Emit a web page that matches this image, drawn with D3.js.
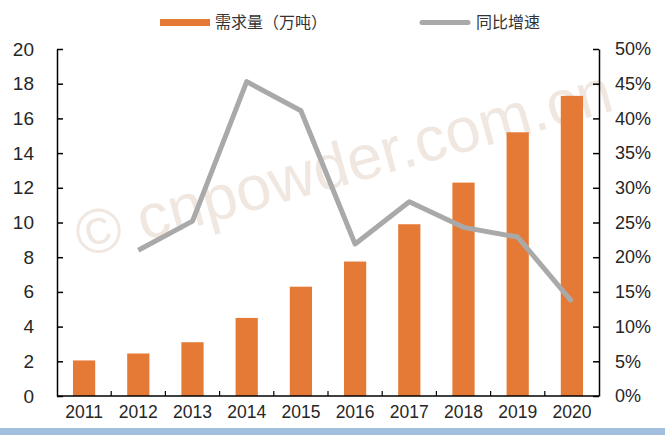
<!DOCTYPE html>
<html>
<head>
<meta charset="utf-8">
<script src="https://cdn.jsdelivr.net/npm/d3@7/dist/d3.min.js"></script>
<style>
  html, body { margin: 0; padding: 0; background: #fff; }
  svg { display: block; }
  .tick text { font-family: "Liberation Sans", Arial, sans-serif; fill: #262626; }
</style>
</head>
<body>
<svg id="chart" width="665" height="435"></svg>
<script>
const years = ["2011","2012","2013","2014","2015","2016","2017","2018","2019","2020"];
const demand = [2.05, 2.45, 3.1, 4.5, 6.3, 7.75, 9.9, 12.3, 15.2, 17.3];
const growthYears = ["2012","2013","2014","2015","2016","2017","2018","2019","2020"];
const growth = [0.21, 0.252, 0.453, 0.411, 0.219, 0.28, 0.243, 0.229, 0.136];
const leftTicks = [0, 2, 4, 6, 8, 10, 12, 14, 16, 18, 20];
const rightTicks = [0, 0.05, 0.10, 0.15, 0.20, 0.25, 0.30, 0.35, 0.40, 0.45, 0.50];
const legendLabels = ["需求量（万吨）", "同比增速"];

const svg = d3.select("#chart");
const L = 57, R = 599, T = 49, B = 396;

// bottom blue strip
svg.append("rect").attr("x", 0).attr("y", 428).attr("width", 665).attr("height", 7).attr("fill", "#a3bfdf");

// watermark
svg.append("text")
  .attr("transform", "translate(82,258) rotate(-15.5)")
  .attr("font-family", "'Liberation Sans', Arial, sans-serif")
  .attr("font-size", 63)
  .attr("fill", "#f0e7e1")
  .text("© cnpowder.com.cn");

const x = d3.scaleBand().domain(years).range([L, R]).paddingInner(0.59).paddingOuter(0.295);
const y = d3.scaleLinear().domain([0, 20]).range([B, T]);
const y2 = d3.scaleLinear().domain([0, 0.5]).range([B, T]);

// bars
svg.append("g").selectAll("rect").data(years).join("rect")
  .attr("x", d => x(d))
  .attr("width", x.bandwidth())
  .attr("y", (d, i) => y(demand[i]))
  .attr("height", (d, i) => y(0) - y(demand[i]))
  .attr("fill", "#e57a37");

// line
const line = d3.line().x((d, i) => x(growthYears[i]) + x.bandwidth() / 2).y(d => y2(d));
svg.append("path").datum(growth)
  .attr("d", line)
  .attr("fill", "none")
  .attr("stroke", "#a9a9a9")
  .attr("stroke-width", 5)
  .attr("stroke-linejoin", "round");

// axes
const gl = svg.append("g").attr("transform", `translate(${L},0)`)
  .call(d3.axisLeft(y).tickValues(leftTicks).tickSizeInner(-6).tickSizeOuter(0).tickPadding(23));
gl.selectAll("text").attr("font-size", 19);

const gr = svg.append("g").attr("transform", `translate(${R},0)`)
  .call(d3.axisRight(y2).tickValues(rightTicks).tickFormat(d3.format(".0%")).tickSizeInner(-6).tickSizeOuter(0).tickPadding(16));
gr.selectAll("text").attr("font-size", 18);

const gb = svg.append("g").attr("transform", `translate(0,${B})`)
  .call(d3.axisBottom(x).tickSize(0).tickPadding(10));
gb.selectAll("text").attr("font-size", 17.5);
gb.select(".domain").remove();

[gl, gr].forEach(g => g.selectAll("line, path").attr("stroke", "#000").attr("stroke-width", 1.5));

// bottom axis line and boundary ticks
svg.append("line").attr("x1", L).attr("x2", R).attr("y1", B).attr("y2", B).attr("stroke", "#000").attr("stroke-width", 1.5);
svg.append("g").selectAll("line").data(years.slice(0, -1)).join("line")
  .attr("x1", d => x(d) + x.bandwidth() / 2 + x.step() / 2)
  .attr("x2", d => x(d) + x.bandwidth() / 2 + x.step() / 2)
  .attr("y1", B).attr("y2", B - 5)
  .attr("stroke", "#000").attr("stroke-width", 1.2);

// legend
const lg = svg.append("g");
lg.append("rect").attr("x", 160).attr("y", 19).attr("width", 50).attr("height", 7).attr("fill", "#e57a37");
lg.append("text").attr("x", 215).attr("y", 28).attr("font-size", 16)
  .attr("font-family", "'Noto Sans CJK SC', sans-serif").attr("fill", "#333").text(legendLabels[0]);
lg.append("line").attr("x1", 422).attr("x2", 468).attr("y1", 22.5).attr("y2", 22.5)
  .attr("stroke", "#a9a9a9").attr("stroke-width", 5).attr("stroke-linecap", "round");
lg.append("text").attr("x", 476).attr("y", 28).attr("font-size", 16)
  .attr("font-family", "'Noto Sans CJK SC', sans-serif").attr("fill", "#333").text(legendLabels[1]);
</script>
</body>
</html>
